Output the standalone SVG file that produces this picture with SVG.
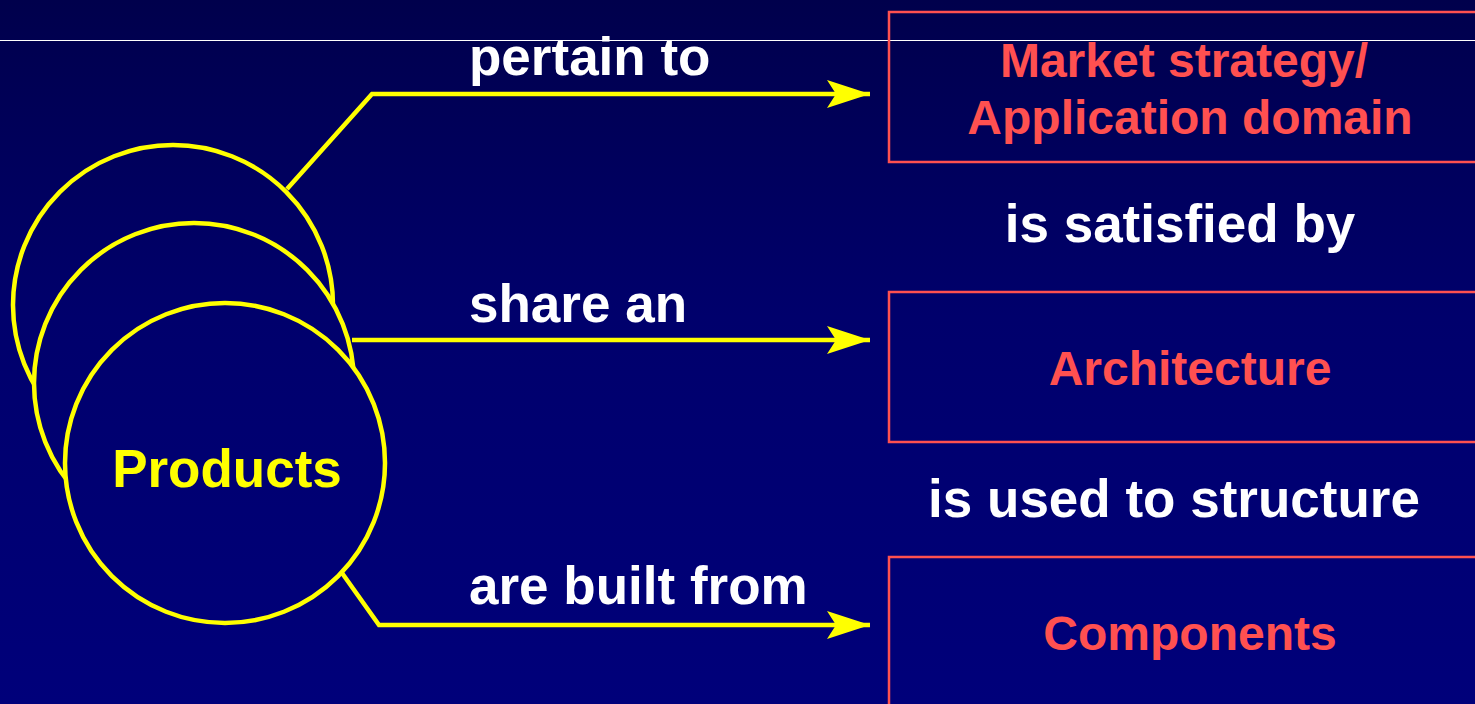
<svg xmlns="http://www.w3.org/2000/svg" width="1475" height="704" viewBox="0 0 1475 704">
  <defs>
    <linearGradient id="bg" x1="0" y1="0" x2="0" y2="704" gradientUnits="userSpaceOnUse">
      <stop offset="0" stop-color="#00004C"/>
      <stop offset="0.45" stop-color="#00006C"/>
      <stop offset="1" stop-color="#00007A"/>
    </linearGradient>
    <marker id="arrow" viewBox="0 0 44 28" refX="43" refY="14" markerWidth="44" markerHeight="28" markerUnits="userSpaceOnUse" orient="auto">
      <path d="M0,0 L43,14 L0,28 L9,14 Z" fill="#FFFF00"/>
    </marker>
    <style>
      .circ { fill: url(#bg); stroke: #FFFF00; stroke-width: 4.5; }
      .conn { fill: none; stroke: #FFFF00; stroke-width: 4.5; stroke-linejoin: miter; }
      .box { fill: none; stroke: #FF5050; stroke-width: 2.5; }
      .lbl { font-family: "Liberation Sans", Arial, sans-serif; font-weight: bold; font-size: 53px; fill: #FFFFFF; }
      .red { font-family: "Liberation Sans", Arial, sans-serif; font-weight: bold; font-size: 48px; fill: #FF5050; text-anchor: middle; }
      .prod { font-family: "Liberation Sans", Arial, sans-serif; font-weight: bold; font-size: 53px; fill: #FFFF00; text-anchor: middle; }
    </style>
  </defs>
  <rect x="0" y="0" width="1475" height="704" fill="url(#bg)"/>
  <line x1="0" y1="40.5" x2="1475" y2="40.5" stroke="#FFFFFF" stroke-width="1"/>

  <g id="connectors">
    <polyline class="conn" points="287,189 372,94 870,94" marker-end="url(#arrow)"/>
    <polyline class="conn" points="352,340 870,340" marker-end="url(#arrow)"/>
    <polyline class="conn" points="342,573 379,625 870,625" marker-end="url(#arrow)"/>
  </g>

  <g id="products">
    <circle class="circ" cx="173" cy="305" r="160"/>
    <circle class="circ" cx="194" cy="383" r="160"/>
    <circle class="circ" cx="225" cy="463" r="160"/>
    <text class="prod" x="227" y="487">Products</text>
  </g>

  <g id="market">
    <rect class="box" x="889" y="12" width="600" height="150"/>
    <text class="red" x="1184" y="77">Market strategy/</text>
    <text class="red" x="1190" y="134">Application domain</text>
  </g>

  <g id="architecture">
    <rect class="box" x="889" y="292" width="600" height="150"/>
    <text class="red" x="1190" y="385">Architecture</text>
  </g>

  <g id="components">
    <rect class="box" x="889" y="557" width="600" height="160"/>
    <text class="red" x="1190" y="650">Components</text>
  </g>

  <g id="labels">
    <text class="lbl" x="469" y="75">pertain to</text>
    <text class="lbl" x="469" y="322">share an</text>
    <text class="lbl" x="469" y="604">are built from</text>
    <text class="lbl" x="1180" y="242" text-anchor="middle">is satisfied by</text>
    <text class="lbl" x="1174" y="517" text-anchor="middle">is used to structure</text>
  </g>
</svg>
